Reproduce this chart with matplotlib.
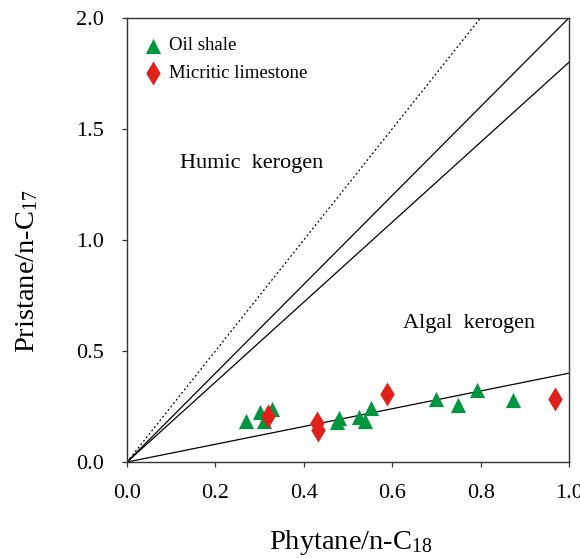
import matplotlib
matplotlib.use("Agg")
import matplotlib.pyplot as plt
import numpy as np

plt.rcParams['font.family'] = ['Liberation Serif', 'DejaVu Serif']
plt.rcParams['mathtext.fontset'] = 'custom'
plt.rcParams['mathtext.rm'] = 'Liberation Serif'
plt.rcParams['mathtext.it'] = 'Liberation Serif:italic'

# Oil shale samples (Ph/n-C18, Pr/n-C17)
shale_x = [0.270, 0.301, 0.310, 0.328, 0.475, 0.480, 0.526, 0.539, 0.551, 0.699, 0.749, 0.791, 0.874]
shale_y = [0.185, 0.223, 0.185, 0.238, 0.180, 0.200, 0.203, 0.185, 0.242, 0.286, 0.256, 0.324, 0.280]

# Micritic limestone samples
lime_x = [0.320, 0.429, 0.431, 0.589, 0.969]
lime_y = [0.208, 0.177, 0.144, 0.306, 0.286]

# reference lines through origin
dotted_slope = 2.5
solid_slopes = [2.0, 1.8, 0.4]

fig = plt.figure(figsize=(5.8, 5.58), dpi=100)
ax = fig.add_axes([0.219, 0.172, 0.762, 0.796])

xs = np.array([0.0, 1.0])
ax.plot(xs, dotted_slope * xs, color='black', lw=0.9, ls=(0, (1.5, 2)))
for s in solid_slopes:
    ax.plot(xs, s * xs, color='black', lw=0.9)

ax.scatter(shale_x, shale_y, marker='^', s=120, color='#00963f', zorder=3,
           label='Oil shale', linewidths=0)
ax.scatter(lime_x, lime_y, marker='d', s=150, color='#e0201b', zorder=3,
           label='Micritic limestone', linewidths=0)

ax.text(0.12, 1.345, 'Humic  kerogen', fontsize=16, ha='left', va='center')
ax.text(0.625, 0.623, 'Algal  kerogen', fontsize=16, ha='left', va='center')

ax.set_xlim(0, 1.0)
ax.set_ylim(0, 2.0)
ax.set_xticks([0.0, 0.2, 0.4, 0.6, 0.8, 1.0])
ax.set_yticks([0.0, 0.5, 1.0, 1.5, 2.0])
ax.xaxis.set_major_formatter(matplotlib.ticker.FormatStrFormatter('%.1f'))
ax.yaxis.set_major_formatter(matplotlib.ticker.FormatStrFormatter('%.1f'))
ax.tick_params(direction='out', length=3.6, width=0.9, labelsize=16, color='#333333')
ax.tick_params(axis='x', pad=12)
ax.tick_params(axis='y', pad=13)
for sp in ax.spines.values():
    sp.set_linewidth(1.0)
    sp.set_color('#333333')

ax.set_xlabel('Phytane/n-C$_{18}$', fontsize=20.5)
ax.set_ylabel('Pristane/n-C$_{17}$', fontsize=20.5)
ax.xaxis.set_label_coords(0.507, -0.148)
ax.yaxis.set_label_coords(-0.196, 0.43)

ax.legend(loc='upper left', frameon=False, fontsize=13.5, handletextpad=0.25,
          bbox_to_anchor=(0.0, 0.99), borderaxespad=0.4, handlelength=1.2,
          labelspacing=0.55)

fig.savefig('out.png', dpi=100)
